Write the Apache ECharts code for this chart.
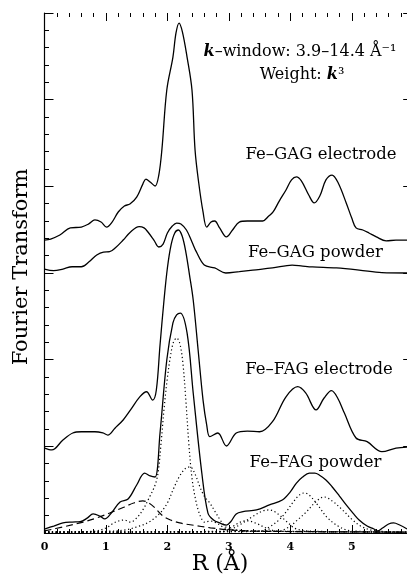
<!DOCTYPE html>
<html>
<head>
<meta charset="utf-8">
<script src="https://cdn.jsdelivr.net/npm/echarts@6/dist/echarts.min.js"></script>
<style>
html,body{margin:0;padding:0;background:#fff;}
#chart{width:407px;height:579px;}
</style>
</head>
<body>
<div id="chart"></div>
<script>
// ---------- DATA ----------
const xTicks = [0, 1, 2, 3, 4, 5];

// Fe-GAG electrode (top spectrum)
const gagElectrodeR = [0.0,0.1,0.25,0.42,0.6,0.72,0.82,0.92,1.01,1.1,1.2,1.3,1.39,1.5,1.6,1.65,1.72,1.8,1.86,1.91,1.99,2.09,2.14,2.19,2.245,2.32,2.40,2.45,2.51,2.58,2.64,2.71,2.77,2.85,2.96,3.06,3.17,3.3,3.45,3.55,3.65,3.72,3.82,3.93,4.02,4.1,4.18,4.3,4.39,4.48,4.58,4.68,4.78,4.91,5.0,5.07,5.18,5.28,5.4,5.56,5.72,5.9];
const gagElectrodeV = [16.90,16.96,17.19,17.60,17.65,17.83,18.06,17.94,17.65,17.94,18.52,18.87,18.98,19.38,20.13,20.42,20.25,20.02,20.65,22.10,25.56,27.46,28.85,29.42,28.90,27.46,25.56,22.10,20.19,18.52,17.65,17.94,18.0,17.60,17.08,17.48,17.94,18.0,18.0,18.0,18.29,18.52,19.15,19.79,20.37,20.54,20.31,19.5,19.04,19.44,20.37,20.65,20.19,19.04,18.17,17.60,17.48,17.31,17.08,16.85,16.90,16.90];

// Fe-GAG powder
const gagPowderR = [0.0,0.15,0.3,0.45,0.6,0.72,0.85,0.96,1.06,1.15,1.28,1.4,1.54,1.62,1.68,1.78,1.86,1.93,2.0,2.08,2.15,2.22,2.31,2.4,2.47,2.6,2.77,2.95,3.17,3.39,3.71,4.03,4.2,4.36,4.75,5.12,5.49,5.9];
const gagPowderV = [15.23,15.14,15.23,15.36,15.36,15.63,16.04,16.21,16.23,16.44,16.90,17.37,17.67,17.60,17.38,16.90,16.50,16.67,17.31,17.71,17.88,17.83,17.48,16.79,16.23,15.46,15.29,15.0,15.08,15.17,15.29,15.46,15.40,15.35,15.29,15.17,15.02,15.0];

// Fe-FAG electrode
const fagElectrodeR = [0.0,0.12,0.3,0.46,0.6,0.82,0.95,1.03,1.15,1.28,1.4,1.55,1.66,1.76,1.82,1.88,1.945,2.0,2.06,2.12,2.18,2.24,2.3,2.36,2.42,2.5,2.58,2.64,2.69,2.82,2.96,3.12,3.3,3.5,3.71,3.93,4.12,4.25,4.42,4.55,4.67,4.77,4.88,5.07,5.25,5.49,5.72,5.9];
const fagElectrodeV = [4.90,4.79,5.37,5.77,5.84,5.84,5.77,5.65,6.06,6.52,7.10,7.85,8.15,7.67,8.25,10.85,13.44,15.29,16.62,17.31,17.48,17.13,16.21,14.88,13.44,10.56,7.67,6.23,5.56,5.77,5.02,5.77,5.88,5.84,6.42,7.86,8.44,8.08,7.10,7.79,8.21,7.79,6.92,5.48,5.27,4.69,4.90,4.96];

// Fe-FAG powder (solid)
const fagPowderR = [0.0,0.15,0.3,0.45,0.58,0.7,0.79,0.9,0.98,1.1,1.23,1.36,1.5,1.63,1.72,1.8,1.88,1.99,2.09,2.15,2.21,2.32,2.42,2.56,2.66,2.75,2.85,2.96,3.03,3.12,3.23,3.45,3.66,3.87,4.0,4.1,4.2,4.31,4.4,4.47,4.58,4.68,4.8,4.91,5.02,5.12,5.25,5.36,5.42,5.5,5.6,5.68,5.78,5.9];
const fagPowderV = [0.23,0.40,0.58,0.63,0.65,0.87,1.10,0.98,0.81,1.21,1.79,1.96,2.77,3.46,3.29,3.23,5.77,9.98,12.12,12.58,12.69,11.54,8.08,3.46,1.15,0.75,0.58,0.46,0.65,1.10,1.23,1.33,1.62,1.90,2.37,2.88,3.23,3.46,3.46,3.35,3.06,2.67,2.13,1.62,1.15,0.75,0.40,0.23,0.12,0.29,0.52,0.58,0.46,0.23];

// Fit shells (Fe-FAG powder)
const shellAR = [0.0,0.8,1.0,1.1,1.2,1.3,1.4,1.5,1.6,1.71,1.8,1.85,1.9,1.95,2.0,2.05,2.1,2.15,2.2,2.25,2.3,2.35,2.4,2.45,2.5,2.55,2.6,2.7,2.8,2.9,3.0,3.5,5.9];
const shellAV = [0.05,0.1,0.29,0.52,0.69,0.75,0.63,0.87,1.33,2.08,2.77,3.52,5.31,7.33,8.95,10.21,11.02,11.25,10.96,9.87,7.67,5.08,3.17,2.08,1.33,0.87,0.63,0.69,0.58,0.35,0.2,0.12,0.05];

const shellBR = [0.0,1.0,1.3,1.5,1.7,1.88,2.0,2.09,2.2,2.3,2.37,2.45,2.53,2.6,2.69,2.78,2.86,2.95,3.1,3.5,5.9];
const shellBV = [0.05,0.1,0.17,0.35,0.63,1.15,1.73,2.48,3.29,3.75,3.81,3.40,2.65,2.13,1.73,1.21,0.75,0.35,0.17,0.1,0.05];

const shellCR = [0.0,0.3,0.63,0.85,1.06,1.3,1.45,1.6,1.7,1.8,1.92,2.05,2.2,2.4,2.7,3.05,3.5,5.9];
const shellCV = [0.12,0.35,0.63,0.87,1.15,1.50,1.73,1.85,1.73,1.44,1.0,0.75,0.58,0.46,0.3,0.17,0.1,0.05];

const shellDR = [0.0,2.8,3.0,3.2,3.4,3.55,3.66,3.8,3.95,4.1,4.4,5.9];
const shellDV = [0.05,0.05,0.17,0.52,0.98,1.27,1.33,1.10,0.63,0.23,0.1,0.05];

const shellER = [0.0,3.5,3.66,3.8,3.93,4.05,4.15,4.23,4.32,4.47,4.6,4.8,5.0,5.9];
const shellEV = [0.05,0.1,0.35,0.7,1.21,1.8,2.2,2.31,2.15,1.5,0.9,0.35,0.12,0.05];

const shellFR = [0.0,3.8,3.98,4.1,4.26,4.4,4.55,4.7,4.85,5.0,5.17,5.4,5.9];
const shellFV = [0.05,0.1,0.35,0.7,1.21,1.75,2.08,1.8,1.33,0.8,0.35,0.12,0.05];

const shellGR = [0.0,2.9,3.05,3.2,3.3,3.45,3.6,3.8,5.9];
const shellGV = [0.05,0.1,0.35,0.65,0.7,0.55,0.3,0.1,0.05];

const labels = ['Fe\u2013GAG electrode','Fe\u2013GAG powder','Fe\u2013FAG electrode','Fe\u2013FAG powder'];

// ---------- CHART ----------
function zip(rs, vs){ return rs.map((r,i)=>[r, vs[i]]); }
const FONT = '"DejaVu Serif", serif';
const GRID_W = 368.7, GRID_H = 520;
const chart = echarts.init(document.getElementById('chart'), null, {renderer:'canvas'});

function solid(name, rs, vs){
  return {name, type:'line', data:zip(rs,vs), showSymbol:false, smooth:0.35, silent:true,
    lineStyle:{color:'#000', width:1.3}, z:5};
}
function dotted(name, rs, vs){
  return {name, type:'line', data:zip(rs,vs), showSymbol:false, smooth:0.35, silent:true,
    lineStyle:{color:'#000', width:1.2, type:[1.2,2.6]}, z:4};
}
function dashed(name, rs, vs){
  return {name, type:'line', data:zip(rs,vs), showSymbol:false, smooth:0.35, silent:true,
    lineStyle:{color:'#000', width:1.2, type:[7,4]}, z:4};
}

const black = {color:'#000', width:1};
const frame = {show:true, lineStyle:{color:'#000', width:1.2}};
const xBase = {type:'value', min:0, max:6, interval:1, splitLine:{show:false}};
const yBase = {type:'value', min:0, max:30, interval:5, splitLine:{show:false}, axisLabel:{show:false}};

// tick-carrying x axes are moved to the opposite edge (offset) so their ticks point into the plot
const xTickAxis = (pos) => Object.assign({}, xBase, {position:pos, offset:-GRID_H,
  axisLine:{show:false}, axisLabel:{show:false},
  axisTick:{show:true, length:8, lineStyle:black},
  minorTick:{show:true, splitNumber:5, length:4, lineStyle:black}});

chart.setOption({
  animation:false,
  backgroundColor:'#fff',
  grid:{left:44.5, top:13, width:GRID_W, height:GRID_H, containLabel:false, outerBoundsMode:'none'},
  xAxis:[
    Object.assign({}, xBase, {position:'bottom', axisLine:frame,
      axisTick:{show:false}, minorTick:{show:false},
      axisLabel:{show:true, margin:9, fontFamily:FONT, fontWeight:'bold', fontSize:11, color:'#000',
        formatter:v => xTicks.includes(v) ? String(v) : ''}}),
    Object.assign({}, xBase, {position:'top', axisLine:frame,
      axisTick:{show:false}, minorTick:{show:false}, axisLabel:{show:false}}),
    xTickAxis('top'),     // sits on bottom edge, ticks point up
    xTickAxis('bottom')   // sits on top edge, ticks point down
  ],
  yAxis:[
    Object.assign({}, yBase, {position:'left', axisLine:frame,
      axisTick:{show:true, inside:true, length:9, lineStyle:black},
      minorTick:{show:true, splitNumber:5, length:4.5, lineStyle:black}}),
    Object.assign({}, yBase, {position:'right', offset:-GRID_W, axisLine:{show:false},
      axisTick:{show:false}, minorTick:{show:false}}),
    Object.assign({}, yBase, {position:'left', offset:-GRID_W, axisLine:frame,
      axisTick:{show:true, length:10, lineStyle:black}, minorTick:{show:false}})
  ],
  series:[
    solid(labels[0], gagElectrodeR, gagElectrodeV),
    solid(labels[1], gagPowderR, gagPowderV),
    solid(labels[2], fagElectrodeR, fagElectrodeV),
    solid(labels[3], fagPowderR, fagPowderV),
    dotted('shell A', shellAR, shellAV),
    dotted('shell B', shellBR, shellBV),
    dashed('shell C', shellCR, shellCV),
    dotted('shell D', shellDR, shellDV),
    dotted('shell E', shellER, shellEV),
    dotted('shell F', shellFR, shellFV),
    dotted('shell G', shellGR, shellGV)
  ],
  graphic:[
    {type:'text', x:22, y:267, rotation:Math.PI/2, style:{text:'Fourier Transform', font:'21px '+FONT, fill:'#000', align:'center', verticalAlign:'middle'}},
    {type:'text', x:220, y:564, style:{text:'R (\u00C5)', font:'22px '+FONT, fill:'#000', align:'center', verticalAlign:'middle'}},
    {type:'text', x:300, y:52, style:{text:'{i|k}\u2013window: 3.9\u201314.4 \u00C5\u207B\u00B9', font:'16px '+FONT, fill:'#000', align:'center', verticalAlign:'middle',
      rich:{i:{font:'italic bold 16px '+FONT, fill:'#000'}}}},
    {type:'text', x:302, y:75, style:{text:'Weight: {i|k}\u00B3', font:'16px '+FONT, fill:'#000', align:'center', verticalAlign:'middle',
      rich:{i:{font:'italic bold 16px '+FONT, fill:'#000'}}}},
    {type:'text', x:321, y:155, style:{text:labels[0], font:'16.5px '+FONT, fill:'#000', align:'center', verticalAlign:'middle'}},
    {type:'text', x:315.5, y:253, style:{text:labels[1], font:'16.5px '+FONT, fill:'#000', align:'center', verticalAlign:'middle'}},
    {type:'text', x:319, y:370, style:{text:labels[2], font:'16.5px '+FONT, fill:'#000', align:'center', verticalAlign:'middle'}},
    {type:'text', x:315.5, y:463, style:{text:labels[3], font:'16.5px '+FONT, fill:'#000', align:'center', verticalAlign:'middle'}}
  ]
});
</script>
</body>
</html>
